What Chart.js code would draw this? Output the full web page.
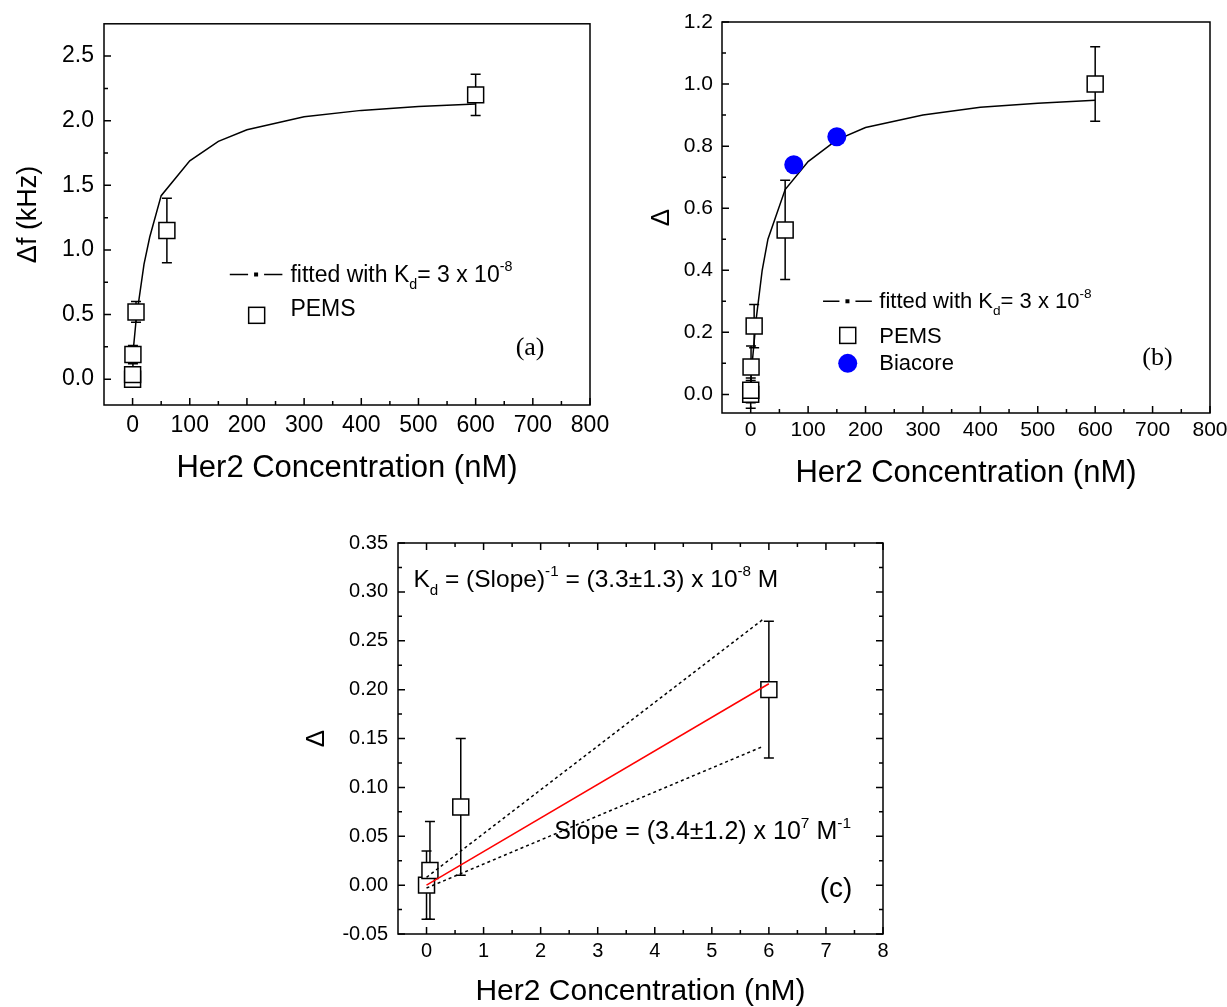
<!DOCTYPE html>
<html>
<head>
<meta charset="utf-8">
<script src="https://cdn.jsdelivr.net/npm/chart.js@4.4.0/dist/chart.umd.min.js"></script>
<style>
  html, body { margin: 0; padding: 0; background: #fff; }
  body { width: 1227px; height: 1007px; position: relative; overflow: hidden; }
  .panel { position: absolute; }
</style>
</head>
<body>
<div class="panel" style="left:0;top:0;width:618px;height:500px"><canvas id="chartA"></canvas></div>
<div class="panel" style="left:610px;top:0;width:628px;height:500px"><canvas id="chartB"></canvas></div>
<div class="panel" style="left:300px;top:510px;width:611px;height:497px"><canvas id="chartC"></canvas></div>
<script>
const SANS = '"Liberation Sans", Arial, sans-serif';
const SERIF = '"Liberation Serif", "Times New Roman", serif';

// (a) PEMS resonance frequency shift
const concA = [0, 0.06, 0.6, 6, 60, 600];
const shiftA = [0.0, 0.035, 0.19, 0.52, 1.15, 2.2];
const shiftErrA = [0.03, 0.025, 0.07, 0.08, 0.25, 0.16];
const fitConcA = [0, 0.6, 6, 10, 20, 30, 50, 100, 150, 200, 300, 400, 500, 600];
const fitShiftA = [0, 0.2, 0.45, 0.58, 0.89, 1.1, 1.42, 1.69, 1.84, 1.93, 2.03, 2.08, 2.11, 2.13];
const xTicksA = [0, 100, 200, 300, 400, 500, 600, 700, 800];
const xMinorA = [50, 150, 250, 350, 450, 550, 650, 750];
const yTicksA = [0, 0.5, 1.0, 1.5, 2.0, 2.5];
const yMinorA = [0.25, 0.75, 1.25, 1.75, 2.25];

// (b) normalised response, PEMS and Biacore
const concB = [0, 0.06, 0.6, 6, 60, 600];
const deltaB = [0.0, 0.013, 0.088, 0.22, 0.53, 1.0];
const deltaErrB = [0.045, 0.04, 0.068, 0.07, 0.16, 0.12];
const biacoreConcB = [75, 150];
const biacoreDeltaB = [0.74, 0.83];
const fitConcB = [0, 0.6, 6, 10, 20, 30, 60, 100, 150, 200, 300, 400, 500, 600];
const fitDeltaB = [0, 0.06, 0.17, 0.25, 0.4, 0.5, 0.66, 0.75, 0.82, 0.86, 0.9, 0.925, 0.938, 0.948];
const xTicksB = [0, 100, 200, 300, 400, 500, 600, 700, 800];
const xMinorB = [50, 150, 250, 350, 450, 550, 650, 750];
const yTicksB = [0, 0.2, 0.4, 0.6, 0.8, 1.0, 1.2];
const yMinorB = [0.1, 0.3, 0.5, 0.7, 0.9, 1.1];

// (c) low-concentration linear region
const concC = [0, 0.06, 0.6, 6];
const deltaC = [0.0, 0.015, 0.08, 0.2];
const deltaErrC = [0.035, 0.05, 0.07, 0.07];
const slopeConcC = [0, 6];
const slopeDeltaC = [0, 0.206];
const upperConcC = [0, 5.9];
const upperDeltaC = [0.008, 0.272];
const lowerConcC = [0, 5.9];
const lowerDeltaC = [-0.003, 0.142];
const xTicksC = [0, 1, 2, 3, 4, 5, 6, 7, 8];
const xMinorC = [0.5, 1.5, 2.5, 3.5, 4.5, 5.5, 6.5, 7.5];
const yTicksC = [-0.05, 0, 0.05, 0.10, 0.15, 0.20, 0.25, 0.30, 0.35];
const yMinorC = [-0.025, 0.025, 0.075, 0.125, 0.175, 0.225, 0.275, 0.325];

const pts = (xs, ys) => xs.map((x, i) => ({ x, y: ys[i] }));

function axis(min, max, ticks, digits, tickSize, pad, boxSize, title, titleSize, titlePad) {
  return {
    type: 'linear', min, max,
    grid: { display: false, drawTicks: false, tickLength: 0 },
    border: { display: false },
    ticks: {
      color: '#000', padding: pad,
      font: { family: SANS, size: tickSize },
      callback: v => v.toFixed(digits)
    },
    afterBuildTicks: s => { s.ticks = ticks.map(v => ({ value: v })); },
    afterFit: s => { if (s.isHorizontal()) s.height = boxSize; else s.width = boxSize; },
    title: {
      display: true, text: title, color: '#000', padding: titlePad,
      font: { family: SANS, size: titleSize, lineHeight: 1 }
    }
  };
}

// text with sub/superscript pieces, e.g. ['K', ['d', 'sub'], ' = ...']
function richText(ctx, x, y, parts, size, family) {
  ctx.save();
  ctx.fillStyle = '#000';
  ctx.textAlign = 'left';
  ctx.textBaseline = 'alphabetic';
  let cx = x;
  parts.forEach(p => {
    const [txt, mode] = Array.isArray(p) ? p : [p, ''];
    const s = mode ? size * 0.62 : size;
    const dy = mode === 'sub' ? size * 0.32 : mode === 'sup' ? -size * 0.45 : 0;
    ctx.font = s + 'px ' + family;
    ctx.fillText(txt, cx, y + dy);
    cx += ctx.measureText(txt).width;
  });
  ctx.restore();
}

function decor(cfg) {
  return {
    id: 'decor',
    beforeDatasetsDraw(chart) {
      const { ctx, scales: { x, y } } = chart;
      ctx.save();
      ctx.strokeStyle = '#000';
      ctx.lineWidth = 1.5;
      chart.data.datasets.forEach(ds => {
        if (!ds.errorBars) return;
        ds.data.forEach((p, i) => {
          const e = ds.errorBars[i];
          const px = x.getPixelForValue(p.x);
          const hi = y.getPixelForValue(p.y + e);
          const lo = y.getPixelForValue(p.y - e);
          ctx.beginPath();
          ctx.moveTo(px, hi); ctx.lineTo(px, lo);
          ctx.moveTo(px - 5, hi); ctx.lineTo(px + 5, hi);
          ctx.moveTo(px - 5, lo); ctx.lineTo(px + 5, lo);
          ctx.stroke();
        });
      });
      ctx.restore();
    },
    afterDraw(chart) {
      const { ctx, chartArea: a, scales: { x, y } } = chart;
      ctx.save();
      ctx.strokeStyle = '#000';
      ctx.lineWidth = 1.5;
      ctx.strokeRect(a.left, a.top, a.right - a.left, a.bottom - a.top);

      // inward tick marks
      const marks = (vals, len) => {
        ctx.beginPath();
        vals.x.forEach(v => {
          const px = x.getPixelForValue(v);
          ctx.moveTo(px, a.bottom); ctx.lineTo(px, a.bottom - len);
          if (cfg.allSides) { ctx.moveTo(px, a.top); ctx.lineTo(px, a.top + len); }
        });
        vals.y.forEach(v => {
          const py = y.getPixelForValue(v);
          ctx.moveTo(a.left, py); ctx.lineTo(a.left + len, py);
          if (cfg.allSides) { ctx.moveTo(a.right, py); ctx.lineTo(a.right - len, py); }
        });
        ctx.stroke();
      };
      marks(cfg.major, 7);
      marks(cfg.minor, 4);

      // legend keys
      (cfg.keys || []).forEach(k => {
        const py = y.getPixelForValue(k.y);
        if (k.type === 'fit') {
          const x1 = x.getPixelForValue(k.x1), x2 = x.getPixelForValue(k.x2);
          const mid = (x1 + x2) / 2;
          ctx.beginPath();
          ctx.moveTo(x1, py); ctx.lineTo(mid - 8, py);
          ctx.moveTo(mid + 8, py); ctx.lineTo(x2, py);
          ctx.stroke();
          ctx.fillStyle = '#000';
          ctx.fillRect(mid - 2, py - 2, 4, 4);
        } else if (k.type === 'square') {
          const px = x.getPixelForValue(k.x);
          ctx.fillStyle = '#fff';
          ctx.fillRect(px - 8, py - 8, 16, 16);
          ctx.strokeRect(px - 8, py - 8, 16, 16);
        } else if (k.type === 'dot') {
          const px = x.getPixelForValue(k.x);
          ctx.fillStyle = '#0000ff';
          ctx.beginPath();
          ctx.arc(px, py, 9.5, 0, Math.PI * 2);
          ctx.fill();
        }
      });
      ctx.restore();

      (cfg.notes || []).forEach(n => {
        richText(ctx, x.getPixelForValue(n.x), y.getPixelForValue(n.y), n.parts, n.size, n.serif ? SERIF : SANS);
      });
    }
  };
}

function panel(id, cfg) {
  return new Chart(document.getElementById(id), {
    type: 'scatter',
    data: { datasets: cfg.datasets },
    options: {
      responsive: true,
      maintainAspectRatio: false,
      animation: false,
      devicePixelRatio: 1,
      events: [],
      layout: { padding: cfg.padding },
      plugins: { legend: { display: false }, tooltip: { enabled: false } },
      scales: { x: cfg.x, y: cfg.y }
    },
    plugins: [decor(cfg)]
  });
}

const squares = (data, errs) => ({
  data, errorBars: errs, order: 1,
  pointStyle: 'rect', pointRadius: 11.3,
  pointBackgroundColor: '#fff', pointBorderColor: '#000', pointBorderWidth: 1.5
});
const curve = (data, color, dash, order) => ({
  data, order, showLine: true, tension: 0, pointRadius: 0,
  borderColor: color, borderWidth: 1.5, borderDash: dash, fill: false
});

panel('chartA', {
  padding: { top: 15, right: 28, left: 0, bottom: 0 },
  x: axis(-50, 800, xTicksA, 0, 23, 7, 95, 'Her2 Concentration (nM)', 31, 16),
  y: axis(-0.2, 2.75, yTicksA, 1, 23, 10, 104, 'Δf (kHz)', 27, 15),
  major: { x: xTicksA, y: yTicksA },
  minor: { x: xMinorA, y: yMinorA },
  datasets: [
    curve(pts(fitConcA, fitShiftA), '#000', [], 2),
    squares(pts(concA, shiftA), shiftErrA)
  ],
  keys: [
    { type: 'fit', x1: 170, x2: 262, y: 0.81 },
    { type: 'square', x: 217, y: 0.494 }
  ],
  notes: [
    { x: 276, y: 0.755, size: 23, parts: ['fitted with K', ['d', 'sub'], '= 3 x 10', ['-8', 'sup']] },
    { x: 276, y: 0.486, size: 23, parts: ['PEMS'] },
    { x: 670, y: 0.188, size: 26, serif: true, parts: ['(a)'] }
  ]
});

panel('chartB', {
  padding: { top: 22, right: 28, left: 0, bottom: 0 },
  x: axis(-50, 800, xTicksB, 0, 21, 5, 87, 'Her2 Concentration (nM)', 31, 11),
  y: axis(-0.06, 1.2, yTicksB, 1, 21, 9, 112, 'Δ', 26, 39),
  major: { x: xTicksB, y: yTicksB },
  minor: { x: xMinorB, y: yMinorB },
  datasets: [
    curve(pts(fitConcB, fitDeltaB), '#000', [], 2),
    squares(pts(concB, deltaB), deltaErrB),
    {
      data: pts(biacoreConcB, biacoreDeltaB), order: 0,
      pointStyle: 'circle', pointRadius: 9.5,
      pointBackgroundColor: '#0000ff', pointBorderColor: '#0000ff', pointBorderWidth: 0
    }
  ],
  keys: [
    { type: 'fit', x1: 126, x2: 211, y: 0.30 },
    { type: 'square', x: 169, y: 0.19 },
    { type: 'dot', x: 169, y: 0.10 }
  ],
  notes: [
    { x: 224, y: 0.278, size: 22, parts: ['fitted with K', ['d', 'sub'], '= 3 x 10', ['-8', 'sup']] },
    { x: 224, y: 0.166, size: 22, parts: ['PEMS'] },
    { x: 224, y: 0.077, size: 22, parts: ['Biacore'] },
    { x: 682, y: 0.095, size: 26, serif: true, parts: ['(b)'] }
  ]
});

panel('chartC', {
  padding: { top: 33, right: 28, left: 0, bottom: 0 },
  x: axis(-0.5, 8, xTicksC, 0, 20, 5, 73, 'Her2 Concentration (nM)', 30, 0),
  y: axis(-0.05, 0.35, yTicksC, 2, 20, 10, 98, 'Δ', 26, 4),
  major: { x: xTicksC, y: yTicksC },
  minor: { x: xMinorC, y: yMinorC },
  allSides: true,
  datasets: [
    { ...squares(pts(concC, deltaC), deltaErrC), order: 3 },
    curve(pts(upperConcC, upperDeltaC), '#000', [3, 3], 2),
    curve(pts(lowerConcC, lowerDeltaC), '#000', [3, 3], 2),
    curve(pts(slopeConcC, slopeDeltaC), '#ff0000', [], 1)
  ],
  notes: [
    { x: -0.23, y: 0.3045, size: 24.5, parts: ['K', ['d', 'sub'], ' = (Slope)', ['-1', 'sup'], ' = (3.3±1.3) x 10', ['-8', 'sup'], ' M'] },
    { x: 2.24, y: 0.047, size: 25, parts: ['Slope = (3.4±1.2) x 10', ['7', 'sup'], ' M', ['-1', 'sup']] },
    { x: 6.89, y: -0.012, size: 28, parts: ['(c)'] }
  ]
});
</script>
</body>
</html>
